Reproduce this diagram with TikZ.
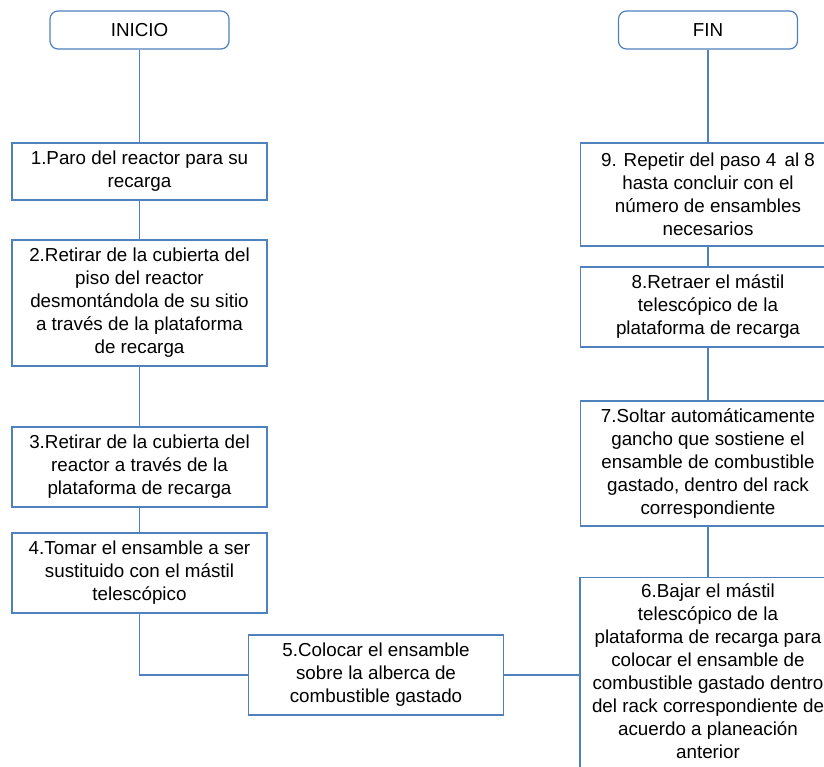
\documentclass[tikz,border=0pt]{standalone}
\usepackage{fontspec}
\setmainfont{Liberation Sans}
\usetikzlibrary{positioning}
\definecolor{boxBlue}{RGB}{79,129,189}
\tikzset{
    termBox/.style={draw=boxBlue, fill=white, rounded corners=8pt, line width=1.2pt, minimum width=179pt, minimum height=38pt, inner sep=0pt, font=\fontsize{18.8}{23}\selectfont},
    stepBox/.style={draw=boxBlue, fill=white, line width=1.2pt, minimum width=255pt, inner sep=0pt, align=center, font=\fontsize{18.8}{23}\selectfont},
    link/.style={draw=boxBlue, line width=1.2pt}
}

\begin{document}
\begin{tikzpicture}[x=1pt, y=-1pt]
    \clip (0,0) rectangle (824,766);
    \fill[white] (0,0) rectangle (824,766);
    % --- left column ---
    \node[termBox] (inicio) at (139.5,30) {INICIO};
    \node[stepBox, minimum height=57pt] (s1) at (139.5,171.5) {1.Paro del reactor para su\\recarga};
    \node[stepBox, minimum height=126pt] (s2) at (139.5,303) {2.Retirar de la cubierta del\\piso del reactor\\desmontándola de su sitio\\a través de la plataforma\\de recarga};
    \node[stepBox, minimum height=80pt] (s3) at (139.5,467) {3.Retirar de la cubierta del\\reactor a través de la\\plataforma de recarga};
    \node[stepBox, minimum height=80pt] (s4) at (139.5,573) {4.Tomar el ensamble a ser\\sustituido con el mástil\\telescópico};
    % --- middle ---
    \node[stepBox, minimum height=80pt] (s5) at (376,675) {5.Colocar el ensamble\\sobre la alberca de\\combustible gastado};
    % --- right column ---
    \node[termBox] (fin) at (708,30) {FIN};
    \node[stepBox, minimum height=103pt] (s9) at (708,194.5) {9. Repetir del paso 4 \,al 8\\hasta concluir con el\\número de ensambles\\necesarios};
    \node[stepBox, minimum height=80pt] (s8) at (708,307) {8.Retraer el mástil\\telescópico de la\\plataforma de recarga};
    \node[stepBox, minimum height=125pt] (s7) at (708,463.5) {7.Soltar automáticamente\\gancho que sostiene el\\ensamble de combustible\\gastado, dentro del rack\\correspondiente};
    \node[stepBox, draw=none, minimum height=186pt] (s6) at (708,671) {6.Bajar el mástil\\telescópico de la\\plataforma de recarga para\\colocar el ensamble de\\combustible gastado dentro\\del rack correspondiente de\\acuerdo a planeación\\anterior};
    % box 6 runs past the bottom edge
    \draw[link] ([yshift=-20pt]s6.south west) -- (s6.north west) -- (s6.north east) -- ([yshift=-20pt]s6.south east);
    % --- connectors ---
    \draw[link] (inicio) -- (s1);
    \draw[link] (s1) -- (s2);
    \draw[link] (s2) -- (s3);
    \draw[link] (s3) -- (s4);
    \draw[link] (s4) |- (s5);
    \draw[link] (s5) -- (s6.west |- s5);
    \draw[link] (s6) -- (s7);
    \draw[link] (s7) -- (s8);
    \draw[link] (s8) -- (s9);
    \draw[link] (s9) -- (fin);
\end{tikzpicture}
\end{document}
